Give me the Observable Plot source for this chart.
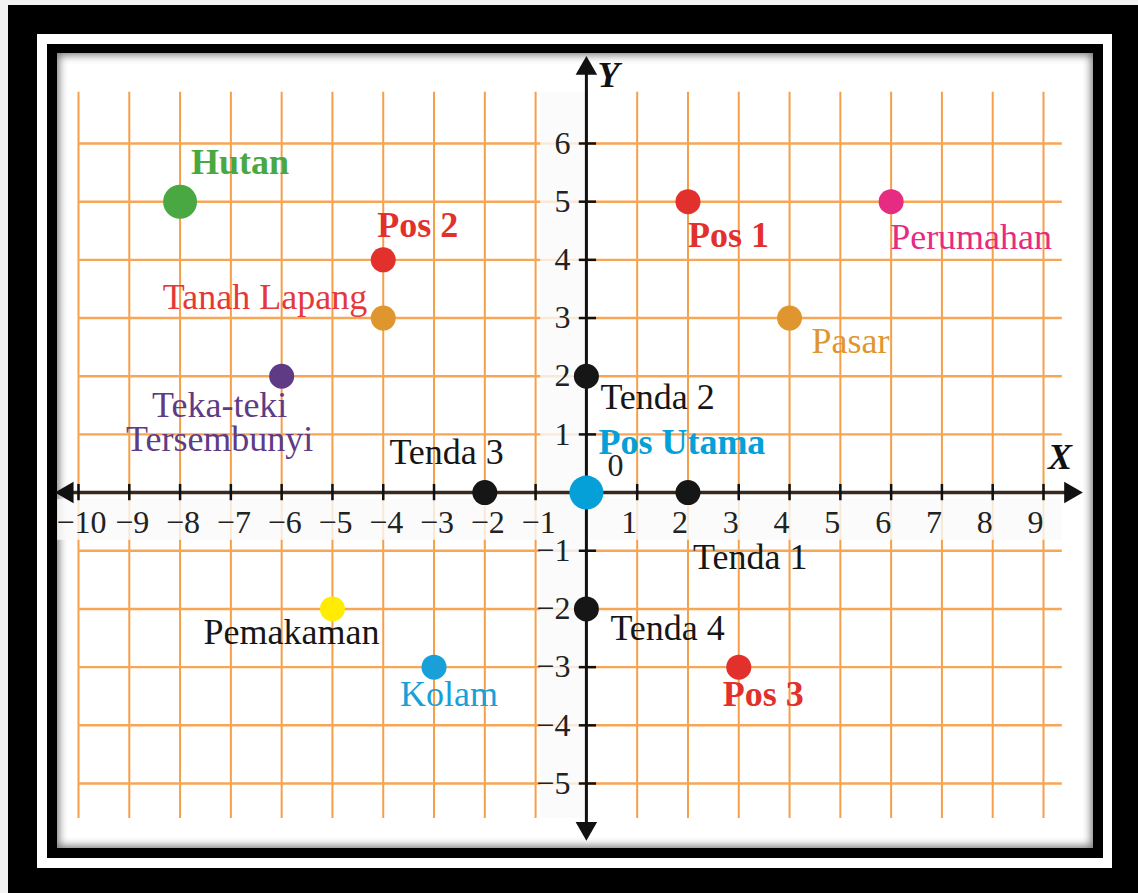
<!DOCTYPE html>
<html><head><meta charset="utf-8">
<script src="https://cdn.jsdelivr.net/npm/d3@7"></script>
<script src="https://cdn.jsdelivr.net/npm/@observablehq/plot@0.6"></script>
<style>
html,body{margin:0;padding:0;background:#fff;}
#wrap{position:relative;width:1138px;height:893px;overflow:hidden;background:#f2f2f2;}
.f{position:absolute;}
#plot{position:absolute;left:0;top:0;}
#plot svg{background:transparent !important;}
</style></head><body>
<div id="wrap">
 <div class="f" style="left:8px;top:5px;width:1130px;height:888px;background:#000"></div>
 <div class="f" style="left:37px;top:34px;width:1075px;height:834px;background:#fff"></div>
 <div class="f" style="left:47px;top:44px;width:1056px;height:814px;background:#000"></div>
 <div class="f" style="left:57px;top:53px;width:1036px;height:795px;background:#fff;box-shadow:inset 0 0 9px 2px rgba(0,0,0,0.55)"></div>
 <div id="plot"></div>
</div>
<script>
// ---- data ----
const places = ["Hutan","Pos 2","Tanah Lapang","Teka-teki\nTersembunyi","Pos 1","Perumahan","Pasar","Tenda 2","Pos Utama","Tenda 3","Tenda 1","Tenda 4","Pemakaman","Kolam","Pos 3"];
const placeX = [-8,-4,-4,-6,2,6,4,0,0,-2,2,0,-5,-3,3];
const placeY = [5,4,3,2,5,5,3,2,0,0,0,-2,-2,-3,-3];
const xTicks = [-10,-9,-8,-7,-6,-5,-4,-3,-2,-1,1,2,3,4,5,6,7,8,9];
const yTicks = [-5,-4,-3,-2,-1,1,2,3,4,5,6];
const xGrid = [-10,-9,-8,-7,-6,-5,-4,-3,-2,-1,0,1,2,3,4,5,6,7,8,9];
const yGrid = [-5,-4,-3,-2,-1,0,1,2,3,4,5,6];
const axisTitles = ["X","Y"];
const originLabel = "0";

// ---- styles ----
const SERIF = "'Liberation Serif','Times New Roman',serif";
const RED = "#e2312c", ORANGE = "#e0962f", BLUE = "#05a0d8", BLACK = "#161616";
const style = {
  "Hutan":        {dot:"#4aa842", r:17, fill:"#4aa842", bold:true,  anchor:"start",  dx:11,  dy:-38},
  "Pos 2":        {dot:RED,  r:12.5, fill:RED,  bold:true,  anchor:"start",  dx:-6,  dy:-34},
  "Tanah Lapang": {dot:ORANGE, r:12.5, fill:"#e5383a", bold:false, anchor:"end", dx:-16, dy:-20},
  "Teka-teki\nTersembunyi": {dot:"#5f3b86", r:12.5, fill:"#5f3b86", bold:false, anchor:"middle", dx:-62, dy:47},
  "Pos 1":        {dot:RED,  r:12.5, fill:RED,  bold:true,  anchor:"start",  dx:0,   dy:35},
  "Perumahan":    {dot:"#e52b82", r:12.5, fill:"#e52b82", bold:false, anchor:"start", dx:-1, dy:37},
  "Pasar":        {dot:ORANGE, r:12.5, fill:ORANGE, bold:false, anchor:"start", dx:22, dy:24},
  "Tenda 2":      {dot:BLACK, r:12.5, fill:BLACK, bold:false, anchor:"start", dx:14, dy:22},
  "Pos Utama":    {dot:BLUE, r:17, fill:BLUE, bold:true, anchor:"start", dx:12, dy:-49},
  "Tenda 3":      {dot:BLACK, r:12.5, fill:BLACK, bold:false, anchor:"end", dx:19, dy:-39},
  "Tenda 1":      {dot:BLACK, r:12.5, fill:BLACK, bold:false, anchor:"start", dx:5, dy:66},
  "Tenda 4":      {dot:BLACK, r:12.5, fill:BLACK, bold:false, anchor:"start", dx:24, dy:20},
  "Pemakaman":    {dot:"#ffec00", r:12.5, fill:BLACK, bold:false, anchor:"end", dx:47, dy:24},
  "Kolam":        {dot:"#1aa0d8", r:12.5, fill:"#1aa0d8", bold:false, anchor:"start", dx:-34, dy:28},
  "Pos 3":        {dot:RED, r:12.5, fill:RED, bold:true, anchor:"start", dx:-16, dy:28}
};

const pts = places.map((name,i)=>({name, x:placeX[i], y:placeY[i]}));
const fmt = d => d < 0 ? "\u2212" + Math.abs(d) : String(d);

const xMin = d3.min(xGrid), xMax = d3.max(xGrid);
const yMin = d3.min(yGrid), yMax = d3.max(yGrid);
// extents of grid & axes (in data units, relative to the tick range)
const gridTop = yMax + 0.88, gridBottom = yMin - 0.6, gridRight = xMax + 0.37;
const axL = xMin - 0.41, axR = xMax + 0.72, axT = yMax + 1.46, axB = yMin - 0.94;

const marks = [
  // grid
  Plot.ruleX(xGrid, {x: d=>d, y1: gridBottom, y2: gridTop, stroke:"#f5a048", strokeWidth:2}),
  Plot.ruleY(yGrid, {y: d=>d, x1: xMin, x2: gridRight, stroke:"#f7a655", strokeWidth:2.4}),
  // light bands behind tick labels
  Plot.rect([0], {x1: axL, x2: gridRight, y1: -0.12, y2: -0.82, fill:"#fafafa", fillOpacity:0.8}),
  Plot.rect([0], {x1: -0.9, x2: 0, y1: gridBottom, y2: gridTop, fill:"#fafafa", fillOpacity:0.8}),
  // axes
  Plot.ruleY([0], {y: d=>d, x1: axL + 0.25, x2: axR - 0.25, stroke:"#3a2a1c", strokeWidth:3.5}),
  Plot.ruleX([0], {x: d=>d, y1: axB + 0.25, y2: axT - 0.25, stroke:"#111", strokeWidth:3}),
  Plot.dot([0], {x: axR - 0.19, y: 0, symbol:"triangle", r:8, fill:"#111", rotate:90}),
  Plot.dot([0], {x: axL + 0.19, y: 0, symbol:"triangle", r:8, fill:"#111", rotate:-90}),
  Plot.dot([0], {x: 0, y: axT - 0.17, symbol:"triangle", r:8, fill:"#111", rotate:0}),
  Plot.dot([0], {x: 0, y: axB + 0.17, symbol:"triangle", r:8, fill:"#111", rotate:180}),
  // ticks
  Plot.ruleX(xTicks, {x: d=>d, y1: -0.14, y2: 0.14, stroke:"#111", strokeWidth:2.5}),
  Plot.ruleY(yTicks, {y: d=>d, x1: -0.14, x2: 0.2, stroke:"#111", strokeWidth:2.5}),
  // tick labels
  Plot.text(xTicks.filter(d=>d<0), {x: d=>d, y: 0, text: fmt, dy: 30, dx: 3, fontSize: 32, fontFamily: SERIF, fill:"#222"}),
  Plot.text(xTicks.filter(d=>d>0), {x: d=>d, y: 0, text: fmt, dy: 30, dx: -8, fontSize: 32, fontFamily: SERIF, fill:"#222"}),
  Plot.text(yTicks, {x: 0, y: d=>d, text: fmt, dx: -16, textAnchor:"end", fontSize: 32, fontFamily: SERIF, fill:"#222"}),
  Plot.text([originLabel], {x: 0, y: 0, text: d=>d, dx: 29, dy: -27, fontSize: 32, fontFamily: SERIF, fill:"#222"}),
  // axis titles
  Plot.text([axisTitles[0]], {x: axR, y: 0, text: d=>d, dx: -20, dy: -35, fontSize: 36, fontStyle:"italic", fontWeight:"bold", fontFamily: SERIF, fill:"#111"}),
  Plot.text([axisTitles[1]], {x: 0, y: axT, text: d=>d, dx: 22, dy: 17, fontSize: 36, fontStyle:"italic", fontWeight:"bold", fontFamily: SERIF, fill:"#111"})
];

for (const p of pts) {
  const s = style[p.name];
  marks.push(Plot.dot([p], {x:"x", y:"y", r:s.r, fill:s.dot}));
}
for (const p of pts) {
  const s = style[p.name];
  marks.push(Plot.text([p], {x:"x", y:"y", text:"name", dx:s.dx, dy:s.dy, textAnchor:s.anchor,
    fill:s.fill, fontWeight: s.bold ? "bold" : "normal", fontSize:36, fontFamily:SERIF, lineHeight:0.93}));
}

const chart = Plot.plot({
  width: 1138, height: 893,
  marginTop: 0, marginRight: 0, marginBottom: 0, marginLeft: 0,
  x: {domain: [-10, 9], range: [78, 1043], axis: null},
  y: {domain: [-5, 6], range: [783, 143], axis: null},
  style: {background: "transparent", overflow: "visible"},
  marks
});
document.getElementById("plot").appendChild(chart);
</script>
</body></html>
